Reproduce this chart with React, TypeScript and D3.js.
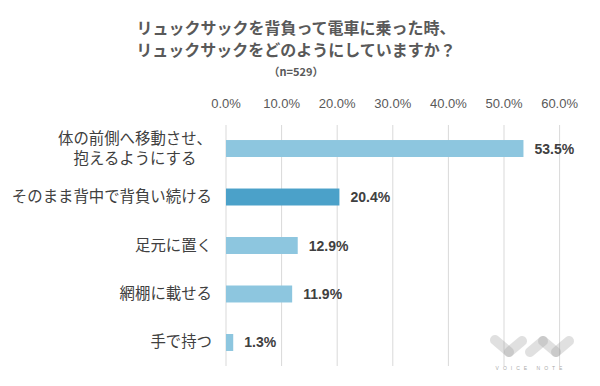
import React, { useEffect } from "react";
import * as d3 from "d3";

const categories = [
  ["体の前側へ移動させ、", "抱えるようにする"],
  ["そのまま背中で背負い続ける"],
  ["足元に置く"],
  ["網棚に載せる"],
  ["手で持つ"],
];
const values = [53.5, 20.4, 12.9, 11.9, 1.3];
const highlight = [false, true, false, false, false];
const ticks = [0, 10, 20, 30, 40, 50, 60];
const titleLines = [
  "リュックサックを背負って電車に乗った時、",
  "リュックサックをどのようにしていますか？",
];
const subtitle = "（n=529）";

const W = 600;
const H = 386;
const jp = "'Noto Sans CJK JP', 'Noto Sans', sans-serif";
const latin = "'Liberation Sans', Arial, sans-serif";

// logo strokes for the faint watermark (bottom right)
const logo = [
  [495, 340, 509, 352],
  [509, 352, 522, 341],
  [530, 352, 543, 341],
  [543, 341, 556, 352],
  [556, 352, 569, 341],
];

const App: React.FC = () => {
  useEffect(() => {
    document.body.style.margin = "0";
  }, []);

  const x = d3.scaleLinear().domain([0, 60]).range([226, 559.6]);
  const y = d3
    .scaleBand<number>()
    .domain(d3.range(values.length))
    .range([125, 366])
    .paddingInner(0.65)
    .paddingOuter(0.31);

  const labelRight = 212;
  const labelSize = 15.4;

  return (
    <svg width={W} height={H} style={{ display: "block", background: "#fff" }}>
      {/* title */}
      <g fontFamily={jp} fontWeight="bold" fill="#595959" textAnchor="middle">
        {titleLines.map((t, i) => (
          <text key={i} x={296} y={34 + i * 22} fontSize={16}>
            {t}
          </text>
        ))}
        <text x={296} y={76} fontSize={11}>
          {subtitle}
        </text>
      </g>

      {/* grid + ticks */}
      {ticks.map((t) => (
        <g key={t}>
          <line x1={x(t)} x2={x(t)} y1={125} y2={366} stroke="#d9d9d9" strokeWidth={1} />
          <text
            x={x(t)}
            y={108}
            textAnchor="middle"
            fontFamily={latin}
            fontSize={13}
            fill="#595959"
          >
            {t.toFixed(1)}%
          </text>
        </g>
      ))}

      {/* bars */}
      {values.map((v, i) => (
        <g key={i}>
          <rect
            x={x(0)}
            y={y(i)}
            width={x(v) - x(0)}
            height={y.bandwidth()}
            fill={highlight[i] ? "#4ba1c9" : "#8dc6df"}
          />
          <text
            x={x(v) + 11}
            y={(y(i) as number) + y.bandwidth() / 2 + 5}
            fontFamily={latin}
            fontWeight="bold"
            fontSize={14}
            fill="#404040"
          >
            {v.toFixed(1)}%
          </text>
        </g>
      ))}

      {/* category labels */}
      {categories.map((lines, i) => {
        const cy = (y(i) as number) + y.bandwidth() / 2;
        const longest = d3.max(lines, (l) => l.length) as number;
        const cx = labelRight - (longest * labelSize) / 2;
        const lh = 20;
        return (
          <g key={i} fontFamily={jp} fontSize={labelSize} fill="#404040" textAnchor="middle">
            {lines.map((l, j) => (
              <text key={j} x={cx} y={cy + (j - (lines.length - 1) / 2) * lh + 5}>
                {l}
              </text>
            ))}
          </g>
        );
      })}

      {/* watermark */}
      <g strokeLinecap="round" strokeWidth={10} fill="none">
        {logo.map(([x1, y1, x2, y2], i) => (
          <line key={i} x1={x1} y1={y1} x2={x2} y2={y2} stroke="#999" strokeOpacity={0.3} />
        ))}
      </g>
      <text
        x={531}
        y={370}
        textAnchor="middle"
        fontFamily={latin}
        fontSize={5}
        letterSpacing={4}
        fill="#aaa"
      >
        VOICE NOTE
      </text>
    </svg>
  );
};

export default App;
